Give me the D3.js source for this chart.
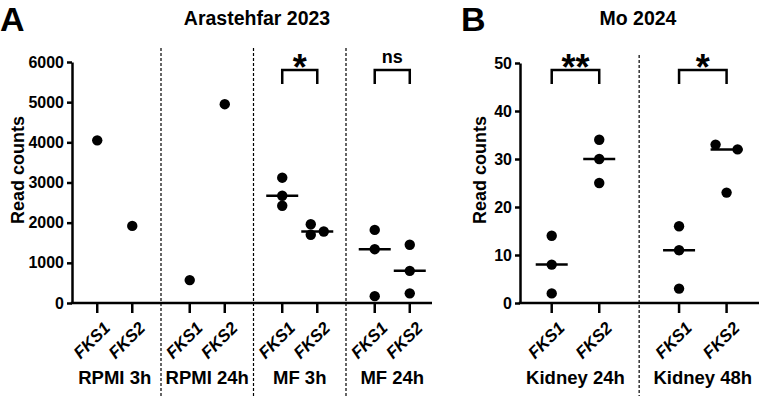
<!DOCTYPE html>
<html>
<head>
<meta charset="utf-8">
<script src="https://cdn.jsdelivr.net/npm/d3@7"></script>
<style>
  body { margin: 0; background: #fff; }
  text { font-family: "Liberation Sans", Arial, sans-serif; font-weight: bold; fill: #000; }
</style>
</head>
<body>
<script>
// ---- data ----
var genes = ['FKS1', 'FKS2'];

var groupsA = ['RPMI 3h', 'RPMI 24h', 'MF 3h', 'MF 24h'];
var rpmi3h  = [[4050], [1920]];
var rpmi24h = [[570], [4950]];
var mf3h    = [[3120, 2670, 2420], [1960, 1780, 1700]];
var mf24h   = [[1820, 1340, 170], [1450, 800, 240]];
var sigA    = ['', '', '*', 'ns'];
var ticksA  = [0, 1000, 2000, 3000, 4000, 5000, 6000];

var groupsB   = ['Kidney 24h', 'Kidney 48h'];
var kidney24h = [[14, 8, 2], [34, 30, 25]];
var kidney48h = [[16, 11, 3], [33, 32, 23]];
var sigB      = ['**', '*'];
var ticksB    = [0, 10, 20, 30, 40, 50];

var svg = d3.select('body').append('svg')
    .attr('width', 759)
    .attr('height', 396);

var AXIS_W = 2.5;

// simple column-scatter dodge: points that collide are pushed sideways,
// then each cluster of close points is centred on the column
var dodge = function(vals, y, sep, minDist) {
    var sorted = vals.slice().sort(function(a, b) { return b - a; });
    var placed = [];
    var cands = [0, sep, -sep, 2 * sep, -2 * sep];
    sorted.forEach(function(v) {
        var py = y(v);
        for (var k = 0; k < cands.length; k++) {
            var ok = placed.every(function(p) {
                return Math.hypot(p.dx - cands[k], p.y - py) >= minDist;
            });
            if (ok) { placed.push({ dx: cands[k], y: py }); return; }
        }
        placed.push({ dx: 0, y: py });
    });
    var i = 0;
    while (i < placed.length) {
        var j = i;
        while (j + 1 < placed.length && placed[j + 1].y - placed[j].y < minDist) j++;
        var cl = placed.slice(i, j + 1);
        var mid = (d3.min(cl, function(p) { return p.dx; }) +
                   d3.max(cl, function(p) { return p.dx; })) / 2;
        cl.forEach(function(p) { p.dx -= mid; });
        i = j + 1;
    }
    return placed;
};

/**
 * Draws one GraphPad-style scatter panel.
 *      opts.groups: group labels
 *      opts.values: per group, per gene, list of values
 *      opts.sig: significance label per group ('' for none)
 *      opts.ticks: y tick values
 */
var panel = function(opts) {

    var y = d3.scaleLinear()
        .domain([0, opts.yMax])
        .range([opts.bottom, opts.top]);

    var xg = d3.scaleBand()
        .domain(opts.groups)
        .range(opts.bandRange)
        .paddingInner(0)
        .paddingOuter(0);

    var xi = d3.scalePoint()
        .domain(genes)
        .range([0, xg.bandwidth()])
        .padding(opts.innerPad);

    var g = svg.append('g');

    // panel letter and title
    g.append('text')
        .attr('x', opts.letterX)
        .attr('y', 31)
        .attr('font-size', '34px')
        .text(opts.letter);

    g.append('text')
        .attr('x', opts.titleX)
        .attr('y', 25)
        .attr('text-anchor', 'middle')
        .attr('font-size', '19.5px')
        .text(opts.title);

    // dashed dividers between groups
    g.selectAll('line.div')
        .data(opts.groups.slice(1))
        .enter().append('line')
        .attr('x1', function(d) { return xg(d); })
        .attr('x2', function(d) { return xg(d); })
        .attr('y1', opts.divTop)
        .attr('y2', 396)
        .attr('stroke', '#000')
        .attr('stroke-width', 1.2)
        .attr('stroke-dasharray', '3,2');

    // y axis
    var yAxis = d3.axisLeft(y)
        .tickValues(opts.ticks)
        .tickFormat(d3.format('d'))
        .tickSize(5)
        .tickSizeOuter(0)
        .tickPadding(3);

    var ya = g.append('g')
        .attr('transform', 'translate(' + opts.axisX + ',0)')
        .call(yAxis);
    ya.attr('font-family', '"Liberation Sans", Arial, sans-serif')
        .attr('font-size', '16px');
    ya.select('.domain').attr('stroke-width', AXIS_W);
    ya.selectAll('.tick line').attr('stroke-width', AXIS_W);
    ya.selectAll('.tick text')
        .attr('font-size', '16px')
        .attr('font-weight', 'bold');

    g.append('text')
        .attr('transform', 'translate(' + opts.yTitleX + ',170) rotate(-90)')
        .attr('text-anchor', 'middle')
        .attr('font-size', '18px')
        .text('Read counts');

    // x axis line
    g.append('line')
        .attr('x1', opts.axisX - AXIS_W / 2)
        .attr('x2', opts.axisEnd)
        .attr('y1', y(0))
        .attr('y2', y(0))
        .attr('stroke', '#000')
        .attr('stroke-width', AXIS_W);

    // flatten into one cell per group x gene
    var cells = [];
    opts.groups.forEach(function(grp, gi) {
        genes.forEach(function(gene, ji) {
            cells.push({
                group: grp,
                gene: gene,
                x: xg(grp) + xi(gene),
                vals: opts.values[gi][ji]
            });
        });
    });

    g.selectAll('line.xtick')
        .data(cells)
        .enter().append('line')
        .attr('x1', function(d) { return d.x; })
        .attr('x2', function(d) { return d.x; })
        .attr('y1', y(0))
        .attr('y2', y(0) + 10)
        .attr('stroke', '#000')
        .attr('stroke-width', AXIS_W);

    g.selectAll('text.xlab')
        .data(cells)
        .enter().append('text')
        .attr('transform', function(d) {
            return 'translate(' + (d.x + 14) + ',' + (y(0) + 26) + ') rotate(-45)';
        })
        .attr('text-anchor', 'end')
        .attr('font-size', '17px')
        .attr('font-style', 'italic')
        .text(function(d) { return d.gene; });

    g.selectAll('text.grp')
        .data(opts.groups)
        .enter().append('text')
        .attr('x', function(d) { return xg(d) + xg.bandwidth() / 2; })
        .attr('y', 384)
        .attr('text-anchor', 'middle')
        .attr('font-size', '18.5px')
        .text(function(d) { return d; });

    // median lines (only when n > 1)
    g.selectAll('line.med')
        .data(cells.filter(function(d) { return d.vals.length > 1; }))
        .enter().append('line')
        .attr('x1', function(d) { return d.x - 16; })
        .attr('x2', function(d) { return d.x + 16; })
        .attr('y1', function(d) { return y(d3.median(d.vals)); })
        .attr('y2', function(d) { return y(d3.median(d.vals)); })
        .attr('stroke', '#000')
        .attr('stroke-width', AXIS_W);

    // points, spread sideways where they would overlap
    var pts = [];
    cells.forEach(function(c) {
        dodge(c.vals, y, opts.sep, 9.5).forEach(function(p) {
            pts.push({ x: c.x + p.dx, y: p.y });
        });
    });

    g.selectAll('circle')
        .data(pts)
        .enter().append('circle')
        .attr('cx', function(d) { return d.x; })
        .attr('cy', function(d) { return d.y; })
        .attr('r', 5.2)
        .attr('fill', '#000');

    // significance brackets
    var sig = opts.groups.map(function(grp, gi) {
        return { group: grp, label: opts.sig[gi] };
    }).filter(function(d) { return d.label !== ''; });

    var br = g.selectAll('g.br')
        .data(sig)
        .enter().append('g');

    br.append('path')
        .attr('d', function(d) {
            var x1 = xg(d.group) + xi(genes[0]);
            var x2 = xg(d.group) + xi(genes[1]);
            return 'M' + x1 + ',84V70H' + x2 + 'V84';
        })
        .attr('fill', 'none')
        .attr('stroke', '#000')
        .attr('stroke-width', AXIS_W);

    br.append('text')
        .attr('x', function(d) { return xg(d.group) + xg.bandwidth() / 2; })
        .attr('y', function(d) { return d.label === 'ns' ? 63 : 80; })
        .attr('text-anchor', 'middle')
        .attr('font-size', function(d) { return d.label === 'ns' ? '18px' : '36px'; })
        .text(function(d) { return d.label; });
};

panel({
    letter: 'A', letterX: 0,
    title: 'Arastehfar 2023', titleX: 257,
    groups: groupsA,
    values: [rpmi3h, rpmi24h, mf3h, mf24h],
    sig: sigA,
    ticks: ticksA,
    yMax: 6000,
    top: 62, bottom: 303,
    axisX: 72, axisEnd: 432,
    bandRange: [68.5, 438.5],
    innerPad: 0.82,
    divTop: 48,
    yTitleX: 24,
    sep: 13
});

panel({
    letter: 'B', letterX: 461,
    title: 'Mo 2024', titleX: 638,
    groups: groupsB,
    values: [kidney24h, kidney48h],
    sig: sigB,
    ticks: ticksB,
    yMax: 50,
    top: 63, bottom: 303,
    axisX: 520, axisEnd: 759,
    bandRange: [511.8, 766.5],
    innerPad: 0.84,
    divTop: 55,
    yTitleX: 486,
    sep: 22
});
</script>
</body>
</html>
